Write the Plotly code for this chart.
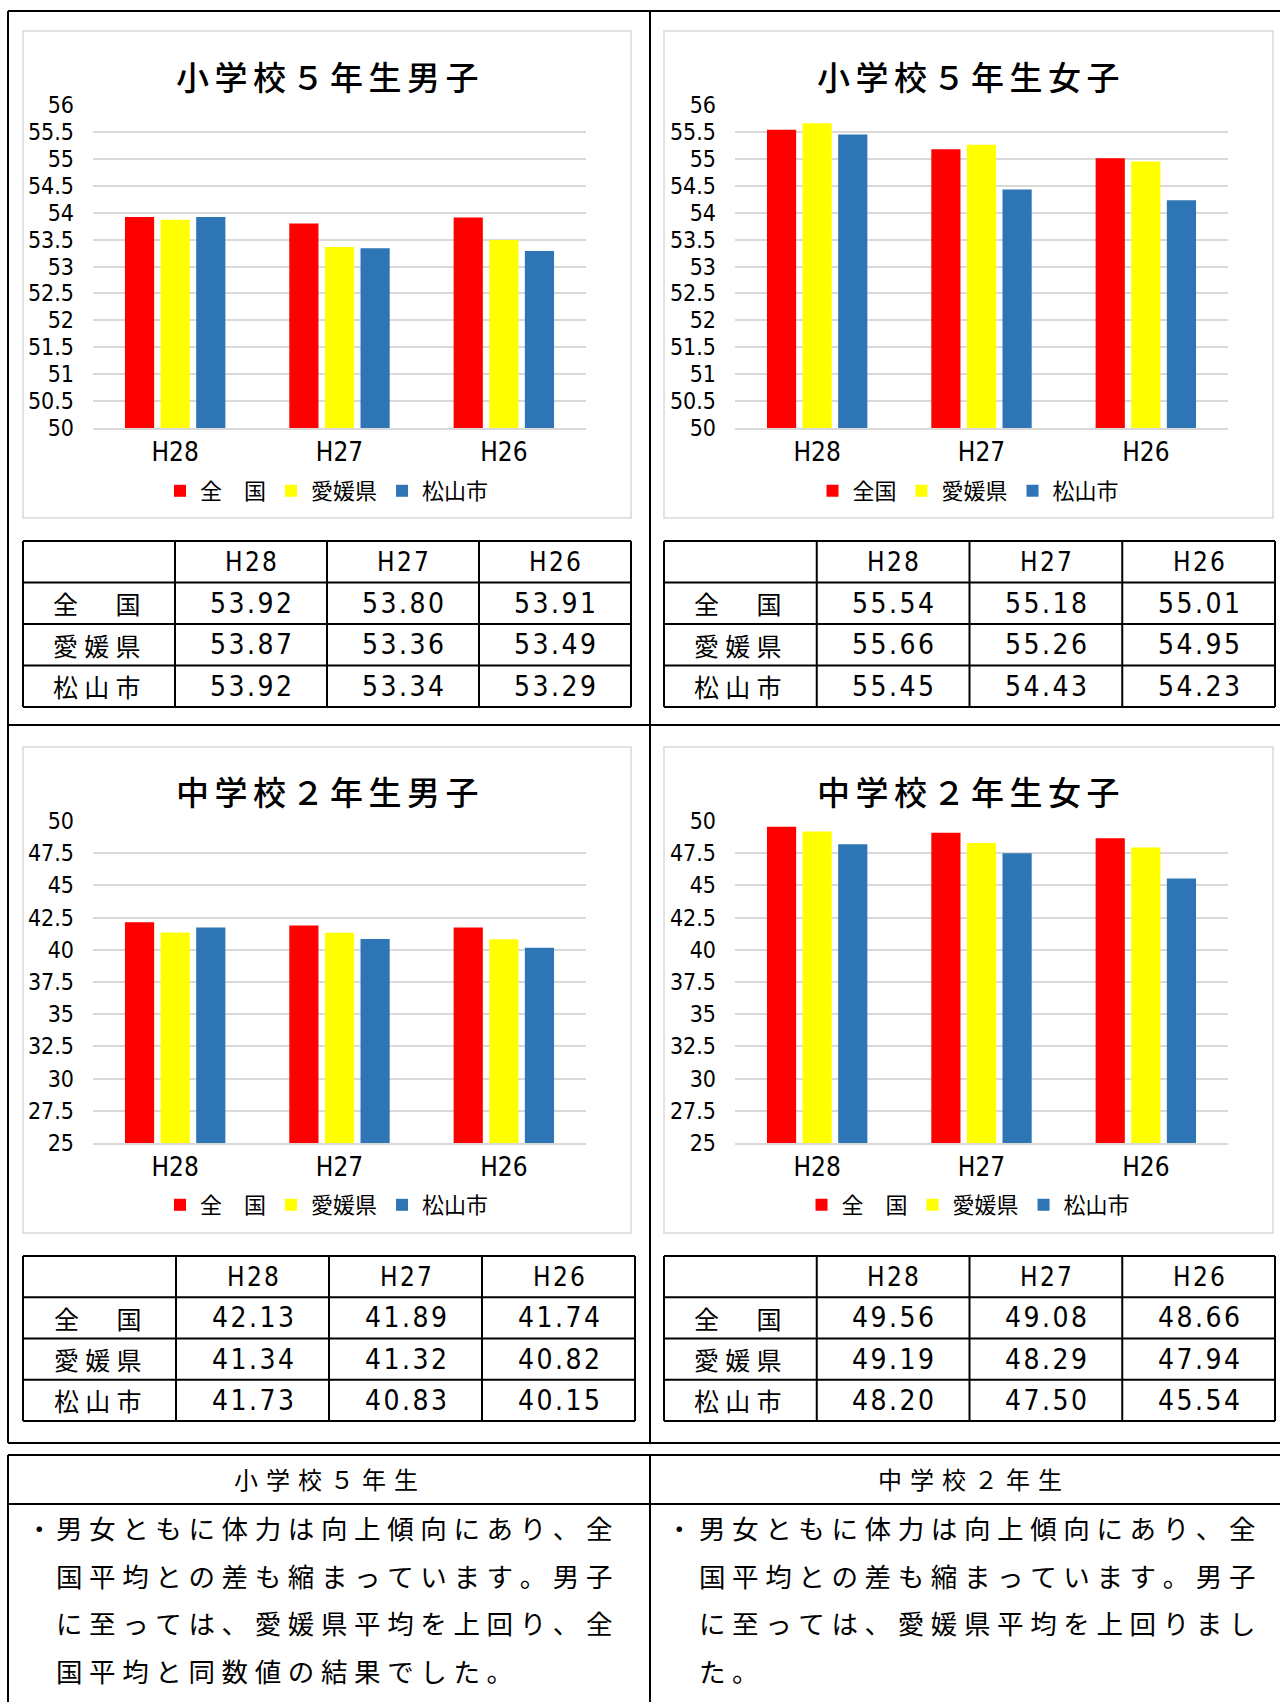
import plotly.graph_objects as go

# ---------------- data ----------------
categories = ["H28", "H27", "H26"]
row_names = ["全　国", "愛媛県", "松山市"]
legend_names_a = ["全　国", "愛媛県", "松山市"]
legend_names_b = ["全国", "愛媛県", "松山市"]
colors = ["#ff0000", "#ffff00", "#2e75b6"]

e5_boys_national = [53.92, 53.80, 53.91]
e5_boys_ehime = [53.87, 53.36, 53.49]
e5_boys_matsuyama = [53.92, 53.34, 53.29]

e5_girls_national = [55.54, 55.18, 55.01]
e5_girls_ehime = [55.66, 55.26, 54.95]
e5_girls_matsuyama = [55.45, 54.43, 54.23]

j2_boys_national = [42.13, 41.89, 41.74]
j2_boys_ehime = [41.34, 41.32, 40.82]
j2_boys_matsuyama = [41.73, 40.83, 40.15]

j2_girls_national = [49.56, 49.08, 48.66]
j2_girls_ehime = [49.19, 48.29, 47.94]
j2_girls_matsuyama = [48.20, 47.50, 45.54]

ticks_e5 = [50, 50.5, 51, 51.5, 52, 52.5, 53, 53.5, 54, 54.5, 55, 55.5, 56]
ticks_j2 = [25, 27.5, 30, 32.5, 35, 37.5, 40, 42.5, 45, 47.5, 50]

chart_titles = ["小学校５年生男子", "小学校５年生女子", "中学校２年生男子", "中学校２年生女子"]
summary_headers = ["小学校５年生", "中学校２年生"]
summary_left = ["男女ともに体力は向上傾向にあり、全",
                "国平均との差も縮まっています。男子",
                "に至っては、愛媛県平均を上回り、全",
                "国平均と同数値の結果でした。"]
summary_right = ["男女ともに体力は向上傾向にあり、全",
                 "国平均との差も縮まっています。男子",
                 "に至っては、愛媛県平均を上回りまし",
                 "た。"]

# ---------------- layout helpers ----------------
W, H = 1280, 1702
JP = "Noto Sans CJK JP"
NUM = "Liberation Sans Narrow, DejaVu Sans Condensed, DejaVu Sans Mono"


def px(x):
    return x / W


def py(y):
    return 1 - y / H


def spaced(s, sp="\u2005"):
    return sp.join(list(s))


panels = [
    dict(title=chart_titles[0], series=[e5_boys_national, e5_boys_ehime, e5_boys_matsuyama],
         names=legend_names_a, box=(23, 31, 631, 518), plot=(93, 105, 586, 428),
         rng=[50, 56], ticks=ticks_e5, title_y=76, legend_y=491,
         table=(23, 541, 631, 707)),
    dict(title=chart_titles[1], series=[e5_girls_national, e5_girls_ehime, e5_girls_matsuyama],
         names=legend_names_b, box=(664, 31, 1273, 518), plot=(735, 105, 1228, 428),
         rng=[50, 56], ticks=ticks_e5, title_y=76, legend_y=491,
         table=(664, 541, 1275, 707)),
    dict(title=chart_titles[2], series=[j2_boys_national, j2_boys_ehime, j2_boys_matsuyama],
         names=legend_names_a, box=(23, 747, 631, 1233), plot=(93, 821, 586, 1143),
         rng=[25, 50], ticks=ticks_j2, title_y=791, legend_y=1205,
         table=(23, 1256, 635, 1421)),
    dict(title=chart_titles[3], series=[j2_girls_national, j2_girls_ehime, j2_girls_matsuyama],
         names=legend_names_a, box=(664, 747, 1273, 1233), plot=(735, 821, 1228, 1143),
         rng=[25, 50], ticks=ticks_j2, title_y=791, legend_y=1205,
         table=(664, 1256, 1275, 1421)),
]

fig = go.Figure()
shapes = []
annotations = []
layout_axes = {}

for i, p in enumerate(panels):
    k = "" if i == 0 else str(i + 1)
    lg = "legend" if i == 0 else f"legend{i + 1}"
    for j, vals in enumerate(p["series"]):
        fig.add_trace(go.Bar(
            x=categories, y=vals, name=p["names"][j],
            marker=dict(color=colors[j], line=dict(width=0)),
            xaxis="x" + k, yaxis="y" + k, legend=lg,
            hoverinfo="skip",
        ))
    x0, y0, x1, y1 = p["plot"]
    layout_axes["xaxis" + k] = dict(
        domain=[px(x0), px(x1)], anchor="y" + k,
        showline=True, linecolor="#d9d9d9", linewidth=1.5,
        showgrid=False, ticks="", ticklabelstandoff=0,
        tickfont=dict(family=NUM, size=26, color="#000"),
        fixedrange=True,
    )
    layout_axes["yaxis" + k] = dict(
        domain=[py(y1), py(y0)], anchor="x" + k,
        range=p["rng"], tickvals=p["ticks"],
        ticktext=[("%g" % t) for t in p["ticks"]],
        showgrid=True, gridcolor="#d9d9d9", gridwidth=1.5,
        zeroline=False, showline=False, ticks="",
        ticklabelstandoff=18,
        tickfont=dict(family=NUM, size=23, color="#000"),
        fixedrange=True,
    )
    layout_axes[lg] = dict(
        orientation="h", x=px((p["box"][0] + p["box"][2]) / 2), xanchor="center",
        y=py(p["legend_y"]), yanchor="middle",
        font=dict(family=JP, size=22, color="#000"),
        itemwidth=30, tracegroupgap=0, bgcolor="rgba(0,0,0,0)",
        itemclick=False, itemdoubleclick=False,
    )
    # chart box
    bx0, by0, bx1, by1 = p["box"]
    shapes.append(dict(type="rect", xref="paper", yref="paper", layer="below",
                       x0=px(bx0), x1=px(bx1), y0=py(by1), y1=py(by0),
                       line=dict(color="#d9d9d9", width=1.5), fillcolor="white"))
    annotations.append(dict(text=spaced(p["title"], "\u2006"), xref="paper", yref="paper",
                            x=px((bx0 + bx1) / 2), y=py(p["title_y"]),
                            xanchor="center", yanchor="middle", showarrow=False,
                            font=dict(family=JP, size=33, color="#000", weight=500)))
    # data table
    tx0, ty0, tx1, ty1 = p["table"]
    ncol, nrow = 4, 3
    cw = (tx1 - tx0) / ncol
    rh = (ty1 - ty0) / (nrow + 1)
    for c in range(ncol + 1):
        xx = tx0 + c * cw
        shapes.append(dict(type="line", xref="paper", yref="paper",
                           x0=px(xx), x1=px(xx), y0=py(ty0), y1=py(ty1),
                           line=dict(color="black", width=2)))
    for r in range(nrow + 2):
        yy = ty0 + r * rh
        shapes.append(dict(type="line", xref="paper", yref="paper",
                           x0=px(tx0), x1=px(tx1), y0=py(yy), y1=py(yy),
                           line=dict(color="black", width=2)))
    for c, cat in enumerate(categories):
        annotations.append(dict(text=spaced(cat, "\u200a"), xref="paper", yref="paper",
                                x=px(tx0 + (c + 1.5) * cw), y=py(ty0 + 0.5 * rh),
                                xanchor="center", yanchor="middle", showarrow=False,
                                font=dict(family=NUM, size=26, color="#000")))
    for r, rn in enumerate(row_names):
        annotations.append(dict(text=spaced(rn), xref="paper", yref="paper",
                                x=px(tx0 + 0.5 * cw - 2), y=py(ty0 + (r + 1.5) * rh),
                                xanchor="center", yanchor="middle", showarrow=False,
                                font=dict(family=JP, size=25, color="#000")))
        for c in range(3):
            annotations.append(dict(text=spaced("%.2f" % p["series"][r][c], "\u200a"),
                                    xref="paper", yref="paper",
                                    x=px(tx0 + (c + 1.5) * cw), y=py(ty0 + (r + 1.5) * rh),
                                    xanchor="center", yanchor="middle", showarrow=False,
                                    font=dict(family=NUM, size=28, color="#000")))


# page frame lines
def hline(y, x0, x1, w=2):
    shapes.append(dict(type="line", xref="paper", yref="paper",
                       x0=px(x0), x1=px(x1), y0=py(y), y1=py(y),
                       line=dict(color="black", width=w)))


def vline(x, y0, y1, w=2):
    shapes.append(dict(type="line", xref="paper", yref="paper",
                       x0=px(x), x1=px(x), y0=py(y0), y1=py(y1),
                       line=dict(color="black", width=w)))


hline(11, 8, 1280)
hline(725, 8, 1280)
hline(1443, 8, 1280)
vline(8, 11, 1443)
vline(650, 11, 1443)
# summary table
hline(1455, 8, 1280)
hline(1504, 8, 1280)
vline(8, 1455, 1702)
vline(650, 1455, 1702)

header_x = [326, 970]
for hx, ht in zip(header_x, summary_headers):
    annotations.append(dict(text=spaced(ht, "\u2004"), xref="paper", yref="paper",
                            x=px(hx), y=py(1478), xanchor="center", yanchor="middle",
                            showarrow=False, font=dict(family=JP, size=24, color="#000")))

line_ys = [1527, 1575, 1622, 1670]
for bullet_x, text_x, lines in [(24, 54, summary_left), (664, 697, summary_right)]:
    annotations.append(dict(text="・", xref="paper", yref="paper",
                            x=px(bullet_x), y=py(line_ys[0]), xanchor="left", yanchor="middle",
                            showarrow=False, font=dict(family=JP, size=26.5, color="#000")))
    for ly, t in zip(line_ys, lines):
        annotations.append(dict(text=spaced(t), xref="paper", yref="paper",
                                x=px(text_x), y=py(ly), xanchor="left", yanchor="middle",
                                showarrow=False, font=dict(family=JP, size=26.5, color="#000")))

fig.update_layout(
    width=W, height=H, margin=dict(l=0, r=0, t=0, b=0, pad=0, autoexpand=False),
    paper_bgcolor="white", plot_bgcolor="rgba(0,0,0,0)",
    barmode="group", bargap=0.35, bargroupgap=0.18,
    shapes=shapes, annotations=annotations,
    font=dict(family=JP, color="#000"),
    **layout_axes,
)

fig.write_html("out.html")
